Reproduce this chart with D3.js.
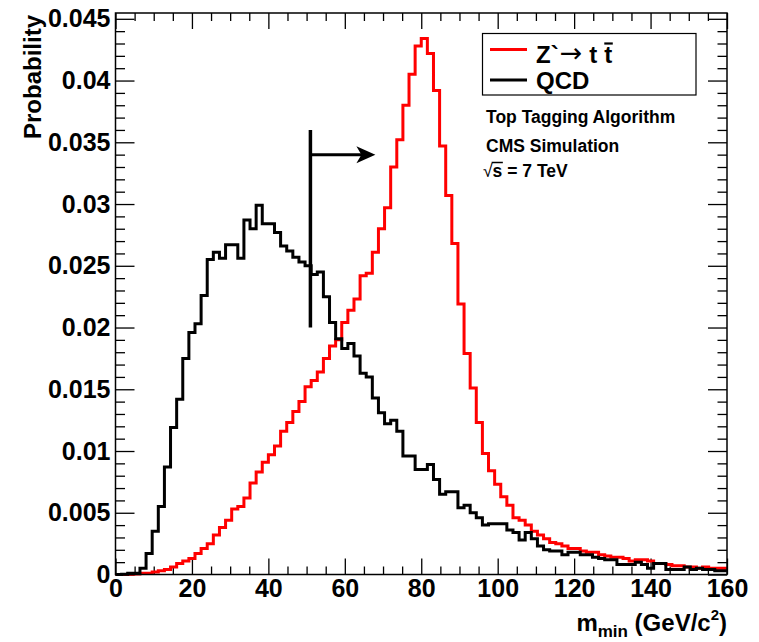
<!DOCTYPE html>
<html>
<head>
<meta charset="utf-8">
<script src="https://cdn.jsdelivr.net/npm/d3@7"></script>
<style>
  body { margin: 0; background: #fff; }
  text { font-family: "Liberation Sans", Arial, Helvetica, sans-serif; font-weight: bold; fill: #000; white-space: pre; }
</style>
</head>
<body>
<svg id="chart" width="759" height="642"></svg>
<script>
// histogram: 100 bins from 0 to 160 GeV/c^2 (bin width 1.6)
const xMin = 0, xMax = 160, nBins = 100;

const zprimeTT = [
  0.0000, 0.0000, 0.00002, 0.00005, 0.0001, 0.0001, 0.0002, 0.0003, 0.0004, 0.0006,
  0.0009, 0.0011, 0.0013, 0.0017, 0.0021, 0.0025, 0.0032, 0.0038, 0.0044, 0.0053,
  0.0055, 0.0062, 0.0074, 0.0083, 0.0091, 0.0097, 0.0104, 0.0116, 0.0123, 0.0132,
  0.0140, 0.0152, 0.0157, 0.0164, 0.0175, 0.0185, 0.0190, 0.0204, 0.0214, 0.0223,
  0.0242, 0.0244, 0.0261, 0.0280, 0.0297, 0.0330, 0.0352, 0.0380, 0.0405, 0.0428,
  0.0434, 0.0422, 0.0392, 0.0347, 0.0307, 0.0268, 0.0219, 0.0179, 0.0151, 0.0123,
  0.0098, 0.0084, 0.0073, 0.0063, 0.0056, 0.0046, 0.0044, 0.0040, 0.0035, 0.0032,
  0.0029, 0.0026, 0.0025, 0.0023, 0.0021, 0.0021, 0.0019, 0.0018, 0.0018, 0.0016,
  0.0015, 0.0014, 0.0014, 0.0013, 0.0011, 0.0012, 0.0012, 0.0011, 0.0009, 0.0009,
  0.0008, 0.0007, 0.0007, 0.0006, 0.0006, 0.0005, 0.0006, 0.0005, 0.0005, 0.0005
];

const qcd = [
  0.0000, 0.00003, 0.0001, 0.0001, 0.0005, 0.0017, 0.0035, 0.0055, 0.0087, 0.0119,
  0.0142, 0.0175, 0.0196, 0.0203, 0.0226, 0.0255, 0.0261, 0.0256, 0.0267, 0.0267,
  0.0256, 0.0287, 0.0280, 0.0299, 0.0284, 0.0284, 0.0277, 0.0266, 0.0262, 0.0257,
  0.0253, 0.0250, 0.0243, 0.0245, 0.0225, 0.0204, 0.0191, 0.0183, 0.0187, 0.0177,
  0.0163, 0.0160, 0.0143, 0.0131, 0.0122, 0.0125, 0.0116, 0.0096, 0.0096, 0.0085,
  0.0085, 0.0089, 0.0077, 0.0065, 0.0067, 0.0067, 0.0054, 0.0056, 0.0050, 0.0046,
  0.0040, 0.0041, 0.0041, 0.0041, 0.0036, 0.0034, 0.0028, 0.0034, 0.0029, 0.0023,
  0.0020, 0.0019, 0.0019, 0.0016, 0.0018, 0.0018, 0.0016, 0.0016, 0.0014, 0.0013,
  0.0012, 0.0012, 0.0008, 0.0008, 0.0008, 0.0010, 0.0008, 0.0005, 0.0009, 0.0009,
  0.0004, 0.0004, 0.0004, 0.0006, 0.0004, 0.0005, 0.0004, 0.0004, 0.0003, 0.0003
];

const xTicks = [0, 20, 40, 60, 80, 100, 120, 140, 160];
const yTicks = [0, 0.005, 0.01, 0.015, 0.02, 0.025, 0.03, 0.035, 0.04, 0.045];
const yTickLabels = ['0', '0.005', '0.01', '0.015', '0.02', '0.025', '0.03', '0.035', '0.04', '0.045'];

// cut marker: vertical line at m_min = 51 with arrow to the right
const cut = { x: 51, yLow: 0.020, yHigh: 0.036, arrowY: 0.034, arrowTo: 68 };

const legendEntries = ['Z`', 'QCD'];
const notes = ['Top Tagging Algorithm', 'CMS Simulation'];

const svg = d3.select('#chart');

const padL = 115.5, padR = 727, padT = 13, padB = 574.5;
const yMax = 0.04547;

const x = d3.scaleLinear().domain([xMin, xMax]).range([padL, padR]);
const y = d3.scaleLinear().domain([0, yMax]).range([padB, padT]);

const binW = (xMax - xMin) / nBins;

// minor tick positions
const xMinor = d3.range(xMin, xMax + 0.01, 5).filter(v => v % 20 !== 0);
const yMinor = d3.range(0, yMax, 0.001).filter(v => Math.abs(v / 0.005 - Math.round(v / 0.005)) > 0.01);

function styleAxis(g) {
    g.select('.domain').remove();
    g.selectAll('line').attr('stroke', '#000').attr('stroke-width', 1.3);
    g.selectAll('text').style('font-size', '25px').style('font-weight', 'bold');
}

// bottom axis
svg.append('g')
    .attr('transform', `translate(0,${padB})`)
    .call(d3.axisBottom(x).tickValues(xTicks).tickSize(-16).tickPadding(5).tickFormat(d3.format('d')))
    .call(styleAxis);
svg.append('g')
    .attr('transform', `translate(0,${padB})`)
    .call(d3.axisBottom(x).tickValues(xMinor).tickSize(-8).tickFormat(''))
    .call(styleAxis);
// top axis
svg.append('g')
    .attr('transform', `translate(0,${padT})`)
    .call(d3.axisTop(x).tickValues(xTicks).tickSize(-16).tickFormat(''))
    .call(styleAxis);
svg.append('g')
    .attr('transform', `translate(0,${padT})`)
    .call(d3.axisTop(x).tickValues(xMinor).tickSize(-8).tickFormat(''))
    .call(styleAxis);
// left axis
svg.append('g')
    .attr('transform', `translate(${padL},0)`)
    .call(d3.axisLeft(y).tickValues(yTicks).tickSize(-19).tickPadding(5)
        .tickFormat((d, i) => yTickLabels[i]))
    .call(styleAxis);
svg.append('g')
    .attr('transform', `translate(${padL},0)`)
    .call(d3.axisLeft(y).tickValues(yMinor).tickSize(-9.5).tickFormat(''))
    .call(styleAxis);
// right axis
svg.append('g')
    .attr('transform', `translate(${padR},0)`)
    .call(d3.axisRight(y).tickValues(yTicks).tickSize(-19).tickFormat(''))
    .call(styleAxis);
svg.append('g')
    .attr('transform', `translate(${padR},0)`)
    .call(d3.axisRight(y).tickValues(yMinor).tickSize(-9.5).tickFormat(''))
    .call(styleAxis);

// histograms as step lines
const step = d3.line()
    .x(d => x(d[0]))
    .y(d => y(d[1]))
    .curve(d3.curveStepAfter);

function histPoints(vals) {
    const pts = vals.map((v, i) => [xMin + i * binW, v]);
    pts.push([xMax, vals[vals.length - 1]]);
    return pts;
}

svg.append('path')
    .attr('d', step(histPoints(zprimeTT)))
    .attr('fill', 'none')
    .attr('stroke', '#ff0000')
    .attr('stroke-width', 3);

svg.append('path')
    .attr('d', step(histPoints(qcd)))
    .attr('fill', 'none')
    .attr('stroke', '#000')
    .attr('stroke-width', 3);

// frame
svg.append('rect')
    .attr('x', padL).attr('y', padT)
    .attr('width', padR - padL).attr('height', padB - padT)
    .attr('fill', 'none')
    .attr('stroke', '#000')
    .attr('stroke-width', 1.5);

// cut line and arrow
svg.append('line')
    .attr('x1', x(cut.x)).attr('x2', x(cut.x))
    .attr('y1', y(cut.yLow)).attr('y2', y(cut.yHigh))
    .attr('stroke', '#000').attr('stroke-width', 3.5);

const ax = x(cut.arrowTo), ay = y(cut.arrowY);
svg.append('line')
    .attr('x1', x(cut.x)).attr('x2', ax - 10)
    .attr('y1', ay).attr('y2', ay)
    .attr('stroke', '#000').attr('stroke-width', 3);
svg.append('path')
    .attr('d', `M${ax},${ay} L${ax - 19},${ay - 8.5} L${ax - 14},${ay} L${ax - 19},${ay + 8.5} Z`)
    .attr('fill', '#000');

// legend
const lg = svg.append('g');
lg.append('rect')
    .attr('x', 482.5).attr('y', 33.5)
    .attr('width', 213.5).attr('height', 61.5)
    .attr('fill', '#fff').attr('stroke', '#000').attr('stroke-width', 1.2);

lg.append('line').attr('x1', 490).attr('x2', 527).attr('y1', 49.5).attr('y2', 49.5)
    .attr('stroke', '#ff0000').attr('stroke-width', 3);
lg.append('line').attr('x1', 490).attr('x2', 527).attr('y1', 80).attr('y2', 80)
    .attr('stroke', '#000').attr('stroke-width', 3);

// text built piece by piece, with optional bar over a piece
function run(g, x0, yb, parts) {
    let cx = x0;
    parts.forEach(p => {
        const t = g.append('text')
            .attr('x', cx).attr('y', yb + (p.dy || 0))
            .style('font-size', p.size + 'px')
            .style('font-weight', p.weight || 'bold')
            .text(p.s);
        if (p.family) t.style('font-family', p.family);
        const w = t.node().getComputedTextLength();
        if (p.bar) {
            g.append('line')
                .attr('x1', cx + p.bar[0]).attr('x2', cx + w + p.bar[1])
                .attr('y1', yb - p.bar[2]).attr('y2', yb - p.bar[2])
                .attr('stroke', '#000').attr('stroke-width', p.bar[3]);
        }
        cx += w + (p.gap || 0);
    });
}

run(lg, 536, 63, [
    { s: legendEntries[0], size: 24, gap: 1 },
    { s: '\u2192', size: 27, weight: 'normal', family: '"DejaVu Sans", sans-serif', dy: -1, gap: 7 },
    { s: 't', size: 24, gap: 7 },
    { s: 't', size: 24, bar: [0, 0.5, 19.5, 2.2] }
]);
lg.append('text').attr('x', 536).attr('y', 89).style('font-size', '24px').text(legendEntries[1]);

// annotations
svg.append('text').attr('x', 486).attr('y', 123).style('font-size', '17.5px').text(notes[0]);
svg.append('text').attr('x', 486).attr('y', 152).style('font-size', '17.5px').text(notes[1]);
run(svg, 483, 177, [
    { s: '\u221A', size: 17.5, weight: 'normal' },
    { s: 's', size: 17.5, bar: [-1, 0.5, 14.5, 1.5] },
    { s: '\u00a0=\u00a07\u00a0TeV', size: 17.5 }
]);

// axis titles
svg.append('text')
    .attr('transform', 'translate(41,15) rotate(-90)')
    .attr('text-anchor', 'end')
    .style('font-size', '24px')
    .text('Probability');

const xt = svg.append('text')
    .attr('x', padR).attr('y', 631)
    .attr('text-anchor', 'end')
    .style('font-size', '24px');
xt.append('tspan').text('m');
xt.append('tspan').attr('dy', 6).style('font-size', '17px').text('min');
xt.append('tspan').attr('dy', -6).text(' (GeV/c');
xt.append('tspan').attr('dy', -11).style('font-size', '15px').text('2');
xt.append('tspan').attr('dy', 11).text(')');
</script>
</body>
</html>
